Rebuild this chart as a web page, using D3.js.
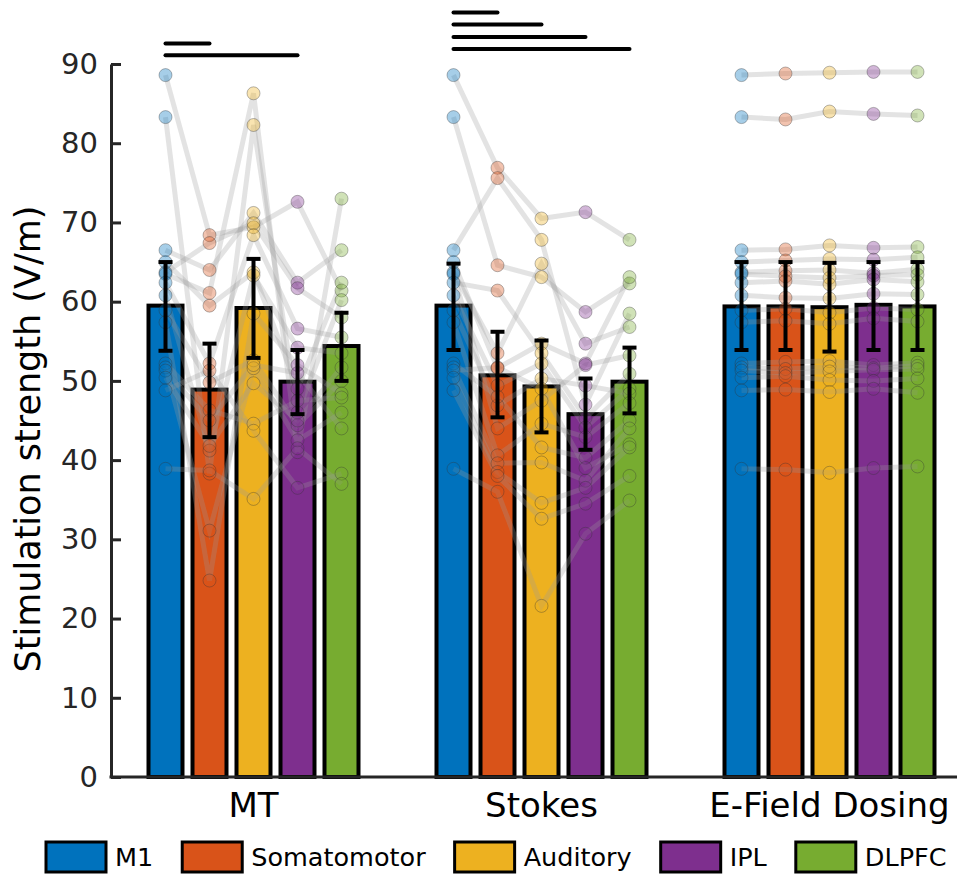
<!DOCTYPE html>
<html>
<head>
<meta charset="utf-8">
<script src="https://cdn.jsdelivr.net/npm/d3@7"></script>
<style>
  body { margin: 0; background: #fff; }
  text { font-family: "DejaVu Sans", sans-serif; }
</style>
</head>
<body>
<script>
// categories
const groups = ["MT", "Stokes", "E-Field Dosing"];
const regions = ["M1", "Somatomotor", "Auditory", "IPL", "DLPFC"];
const regionColors = ["#0072BD", "#D95319", "#EDB120", "#7E2F8E", "#77AC30"];
const yTicks = [0, 10, 20, 30, 40, 50, 60, 70, 80, 90];

// per-subject stimulation strength (V/m), same subject order in every array
const m1 = [88.6, 83.3, 66.5, 65.0, 63.7, 63.5, 62.4, 60.8, 58.9, 57.4, 52.2, 51.7, 51.3, 50.4, 48.8, 38.9];

const mtSomato   = [68.4, 38.3, 64.0, 59.5, 67.4, 61.1, 52.2, 41.2, 49.8, 24.8, 46.3, 31.1, 45.0, 41.8, 51.3, 38.7];
const mtAuditory = [69.4, 82.3, 71.2, 63.7, 69.9, 86.3, 68.4, 63.3, 52.6, 58.5, 44.6, 51.6, 52.0, 49.7, 43.7, 35.1];
const mtIpl      = [72.6, 46.0, 62.4, 49.0, 61.7, 41.0, 56.6, 54.2, 44.4, 52.0, 47.5, 42.5, 51.0, 45.0, 36.5, 41.5];
const mtDlpfc    = [61.4, 60.2, 66.5, 62.4, 58.0, 73.0, 55.5, 53.5, 50.0, 48.4, 47.9, 46.0, 44.0, 51.7, 38.3, 37.0];

const stSomato   = [76.9, 64.6, 75.6, 51.6, 53.5, 44.0, 61.4, 49.4, 46.9, 40.6, 48.0, 39.6, 51.7, 38.5, 38.0, 36.0];
const stAuditory = [70.5, 63.1, 67.8, 54.7, 64.8, 47.5, 53.5, 52.2, 50.3, 44.6, 41.6, 39.7, 49.0, 34.6, 32.6, 21.6];
const stIpl      = [71.3, 58.7, 47.0, 52.2, 54.7, 52.0, 45.3, 44.1, 49.4, 42.9, 40.3, 37.4, 39.0, 36.5, 34.5, 30.7];
const stDlpfc    = [67.8, 62.3, 58.5, 63.1, 56.8, 53.2, 50.9, 49.0, 48.4, 47.2, 45.0, 44.0, 42.0, 41.6, 38.0, 34.9];

const efSomato   = [88.8, 83.0, 66.6, 65.2, 63.9, 63.2, 62.6, 60.5, 59.1, 57.6, 52.4, 51.5, 51.0, 50.6, 48.9, 38.8];
const efAuditory = [88.9, 84.0, 67.1, 65.4, 64.0, 63.0, 62.2, 60.4, 58.6, 57.2, 52.5, 51.8, 51.2, 50.1, 48.6, 38.4];
const efIpl      = [89.0, 83.7, 66.8, 65.3, 63.6, 63.3, 62.8, 61.0, 59.2, 57.9, 52.0, 51.6, 51.4, 50.0, 49.0, 39.0];
const efDlpfc    = [89.0, 83.5, 66.9, 65.6, 64.1, 63.4, 62.5, 60.9, 59.0, 57.5, 52.3, 51.9, 51.5, 50.3, 48.5, 39.2];

// bar heights and error bar ends
const mtMean = [59.5, 48.9, 59.2, 49.9, 54.4];
const mtLow  = [53.8, 42.9, 52.9, 45.8, 50.0];
const mtHigh = [65.0, 54.7, 65.4, 53.9, 58.6];
const stMean = [59.5, 50.7, 49.3, 45.8, 49.9];
const stLow  = [53.9, 45.4, 43.5, 41.3, 45.9];
const stHigh = [64.8, 56.2, 55.1, 50.3, 54.2];
const efMean = [59.4, 59.4, 59.3, 59.6, 59.4];
const efLow  = [53.9, 53.9, 53.7, 53.9, 53.9];
const efHigh = [65.0, 65.0, 64.9, 65.0, 65.0];

// significance bars: group, from region, to region, height (V/m)
const sigGroup = ["MT", "MT", "Stokes", "Stokes", "Stokes", "Stokes"];
const sigFrom  = ["M1", "M1", "M1", "M1", "M1", "M1"];
const sigTo    = ["Somatomotor", "IPL", "Somatomotor", "Auditory", "IPL", "DLPFC"];
const sigLevel = [92.6, 91.1, 96.5, 95.0, 93.4, 91.9];

// tables built from the arrays above
const subjects = {
  "MT": [m1, mtSomato, mtAuditory, mtIpl, mtDlpfc],
  "Stokes": [m1, stSomato, stAuditory, stIpl, stDlpfc],
  "E-Field Dosing": [m1, efSomato, efAuditory, efIpl, efDlpfc]
};
const summary = {
  "MT": [mtMean, mtLow, mtHigh],
  "Stokes": [stMean, stLow, stHigh],
  "E-Field Dosing": [efMean, efLow, efHigh]
};

const width = 968, height = 874;

const svg = d3.select("body")
    .append("svg")
    .attr("width", width)
    .attr("height", height);

// scales
const x = d3.scaleBand()
    .domain(groups)
    .range([109.5, 973.5]);

const xInner = d3.scaleBand()
    .domain(regions)
    .range([-110, 110]);

const y = d3.scaleLinear()
    .domain([0, 90])
    .range([777, 64]);

const color = d3.scaleOrdinal()
    .domain(regions)
    .range(regionColors);

const cx = (g, r) => x(g) + x.bandwidth() / 2 + xInner(r) + xInner.bandwidth() / 2;
const barW = 34;

// bars
const barData = [];
groups.forEach(g => regions.forEach((r, i) => {
  barData.push({g: g, r: r, mean: summary[g][0][i], lo: summary[g][1][i], hi: summary[g][2][i]});
}));

svg.append("g")
    .selectAll("rect")
    .data(barData)
    .enter()
    .append("rect")
    .attr("x", d => cx(d.g, d.r) - barW / 2)
    .attr("y", d => y(d.mean))
    .attr("width", barW)
    .attr("height", d => y(0) - y(d.mean))
    .style("fill", d => color(d.r))
    .style("stroke", "#000")
    .style("stroke-width", 4);

// subject lines
const line = d3.line()
    .x(d => d[0])
    .y(d => y(d[1]));

const lineData = [];
const pointData = [];
groups.forEach(g => {
  const cols = subjects[g];
  cols[0].forEach((_, s) => {
    lineData.push(regions.map((r, i) => [cx(g, r), cols[i][s]]));
    regions.forEach((r, i) => pointData.push({g: g, r: r, v: cols[i][s]}));
  });
});

svg.append("g")
    .selectAll("path")
    .data(lineData)
    .enter()
    .append("path")
    .attr("d", line)
    .style("fill", "none")
    .style("stroke", "#999")
    .style("stroke-opacity", 0.28)
    .style("stroke-width", 5);

svg.append("g")
    .selectAll("circle")
    .data(pointData)
    .enter()
    .append("circle")
    .attr("cx", d => cx(d.g, d.r))
    .attr("cy", d => y(d.v))
    .attr("r", 6.5)
    .style("fill", d => color(d.r))
    .style("fill-opacity", 0.35)
    .style("stroke", "#333")
    .style("stroke-opacity", 0.35)
    .style("stroke-width", 1);

// error bars
const err = svg.append("g")
    .selectAll("g")
    .data(barData)
    .enter()
    .append("g")
    .style("stroke", "#000")
    .style("stroke-width", 4);

err.append("line")
    .attr("x1", d => cx(d.g, d.r))
    .attr("x2", d => cx(d.g, d.r))
    .attr("y1", d => y(d.lo))
    .attr("y2", d => y(d.hi));

err.append("line")
    .attr("x1", d => cx(d.g, d.r) - 7)
    .attr("x2", d => cx(d.g, d.r) + 7)
    .attr("y1", d => y(d.hi))
    .attr("y2", d => y(d.hi));

err.append("line")
    .attr("x1", d => cx(d.g, d.r) - 7)
    .attr("x2", d => cx(d.g, d.r) + 7)
    .attr("y1", d => y(d.lo))
    .attr("y2", d => y(d.lo));

// significance bars
svg.append("g")
    .selectAll("line")
    .data(sigLevel)
    .enter()
    .append("line")
    .attr("x1", (d, i) => cx(sigGroup[i], sigFrom[i]))
    .attr("x2", (d, i) => cx(sigGroup[i], sigTo[i]))
    .attr("y1", d => y(d))
    .attr("y2", d => y(d))
    .style("stroke", "#000")
    .style("stroke-width", 4)
    .style("stroke-linecap", "round");

// y axis
const yAxis = svg.append("g")
    .attr("transform", "translate(111,0)")
    .call(d3.axisLeft(y).tickValues(yTicks).tickSizeInner(-10).tickSizeOuter(0).tickPadding(13));

yAxis.select(".domain").style("stroke", "#262626").style("stroke-width", 3);
yAxis.selectAll(".tick line").style("stroke", "#262626").style("stroke-width", 3);
yAxis.selectAll(".tick text")
    .style("font-size", "29px")
    .style("font-family", "DejaVu Sans")
    .style("fill", "#262626");

// x axis
svg.append("line")
    .attr("x1", 109.5)
    .attr("x2", 957)
    .attr("y1", y(0))
    .attr("y2", y(0))
    .style("stroke", "#262626")
    .style("stroke-width", 3);

const xAxis = svg.append("g")
    .attr("transform", `translate(0,${y(0)})`)
    .call(d3.axisBottom(x).tickSize(0).tickPadding(16));

xAxis.select(".domain").remove();
xAxis.selectAll(".tick text")
    .style("font-size", "34px")
    .style("font-family", "DejaVu Sans")
    .style("fill", "#000");

/*y axis title*/
svg.append("text")
    .attr("transform", "translate(40,439) rotate(-90)")
    .attr("text-anchor", "middle")
    .style("font-size", "35px")
    .style("fill", "#000")
    .text("Stimulation strength (V/m)");

// legend
const legend = svg.append("g").attr("transform", "translate(0,842)");
let lx = 46;
regions.forEach((r, i) => {
  legend.append("rect")
      .attr("x", lx)
      .attr("y", 0)
      .attr("width", 60)
      .attr("height", 30)
      .style("fill", color(r))
      .style("stroke", "#000")
      .style("stroke-width", 3);
  const t = legend.append("text")
      .attr("x", lx + 69)
      .attr("y", 24)
      .style("font-size", "25.5px")
      .style("fill", "#000")
      .text(r);
  lx += 69 + t.node().getComputedTextLength() + 29;
});
</script>
</body>
</html>
